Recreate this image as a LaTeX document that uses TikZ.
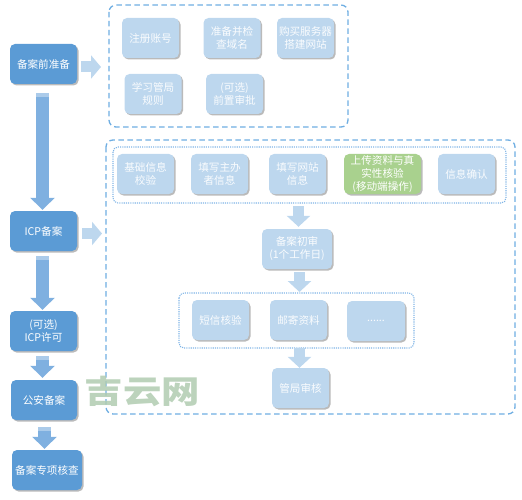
\documentclass[tikz,border=0pt]{standalone}
\usepackage{fontspec}
\setmainfont{Noto Sans CJK SC}
\usetikzlibrary{shadows,arrows.meta}
\definecolor{darkb}{HTML}{5B9BD5}
\definecolor{lightb}{HTML}{BDD7EE}
\definecolor{greenb}{HTML}{A9D18E}
\definecolor{arrowb}{HTML}{7FB0E0}
\definecolor{dashb}{HTML}{6FAEE2}
\definecolor{dotb}{HTML}{7FB4E6}
\definecolor{wm}{HTML}{B0CBB0}
\tikzset{
  x=1pt,y=-1pt,
  card/.style={rounded corners=5pt,text=white,align=center,inner sep=0pt,
    minimum height=40pt,font=\fontsize{10.6}{13}\selectfont,
    drop shadow={shadow xshift=1.5pt,shadow yshift=-1.5pt,fill=black!45,opacity=.6}},
  mainbox/.style={card,fill=darkb,minimum width=67pt},
  subbox/.style={card,fill=lightb,text=white!92!lightb,minimum width=57pt},
  greenbox/.style={card,fill=greenb,minimum width=77pt},
  dashframe/.style={draw=dashb,line width=1.3pt,dash pattern=on 5.5pt off 3.5pt,rounded corners=7pt},
  dotframe/.style={draw=dotb,line width=1.1pt,dash pattern=on 1.1pt off 1.1pt,rounded corners=5pt},
  flowarrow/.style={draw=arrowb,line width=13pt,-{Triangle[width=24pt,length=12pt,fill=arrowb]}},
  sidearrow/.style={draw=lightb,line width=11pt,-{Triangle[width=23pt,length=10pt,fill=lightb]}},
  innerarrow/.style={draw=lightb,line width=11pt,-{Triangle[width=23pt,length=11pt,fill=lightb]}},
  sheen/.style={fill=white,opacity=.35},
  anchorpt/.style={inner sep=0pt,minimum size=0pt}
}
\begin{document}
\begin{tikzpicture}
\useasboundingbox (0,0) rectangle (522,500);
% frames
\draw[dashframe] (109,5) rectangle (348,127);
\draw[dashframe] (106,140) rectangle (515,414);
\draw[dotframe] (113,147) rectangle (506,203);
\draw[dotframe] (179,293) rectangle (414,348);
% main column
\node[mainbox] (prep) at (43.5,64) {备案前准备};
\node[mainbox] (icp) at (43.5,231) {ICP备案};
\node[mainbox] (lic) at (43.5,331) {(可选)\\ICP许可};
\node[mainbox,minimum width=66pt] (pol) at (44,400) {公安备案};
\node[mainbox,minimum width=70pt] (chk) at (47,470) {备案专项核查};
% top group
\node[subbox] (reg) at (150.5,38) {注册账号};
\node[subbox] (dom) at (232,38) {准备并检\\查域名};
\node[subbox] (srv) at (305.5,38) {购买服务器\\搭建网站};
\node[subbox] (rule) at (153,94) {学习管局\\规则};
\node[subbox] (pre) at (234.5,94) {(可选)\\前置审批};
% big group
\node[subbox] (base) at (145.5,174) {基础信息\\校验};
\node[subbox] (host) at (219.5,174) {填写主办\\者信息};
\node[subbox] (site) at (297.5,174) {填写网站\\信息};
\node[greenbox] (upl) at (382.5,174) {上传资料与真\\实性核验\\(移动端操作)};
\node[subbox] (conf) at (466.5,174) {信息确认};
\node[subbox,minimum width=70pt] (init) at (297,249) {备案初审\\(1个工作日)};
\node[subbox] (sms) at (220.5,320) {短信核验};
\node[subbox] (mail) at (298.5,320) {邮寄资料};
\node[subbox,minimum width=58pt] (more) at (376,321) {......};
\node[subbox] (gov) at (300.5,388) {管局审核};
% helpers for the arrows standing off the node axes
\coordinate (f1) at (prep.south -| 42.5,0);
\coordinate (f2) at (icp.south -| 42.5,0);
\coordinate (f3) at (lic.south -| 42.5,0);
\coordinate (f4) at (pol.south -| 44.5,0);
% flow arrows
\draw[flowarrow,shorten <=9pt,shorten >=1pt] (f1) -- (f1 |- icp.north);
\draw[flowarrow,shorten <=5pt,shorten >=1pt] (f2) -- (f2 |- lic.north);
\draw[flowarrow,shorten <=5pt,shorten >=2pt] (f3) -- (f3 |- pol.north);
\draw[flowarrow,shorten <=7pt,shorten >=1pt] (f4) -- (f4 |- chk.north);
\fill[sheen] (36,93) rectangle (49,97);
\fill[sheen] (36,256) rectangle (49,260);
\fill[sheen] (36,356) rectangle (49,360);
\fill[sheen] (38,427) rectangle (51,431);
% side arrows
\coordinate (s1) at (109,67);
\coordinate (s2) at (106,233.5);
\draw[sidearrow,shorten <=4pt,shorten >=8pt] (prep.east |- s1) -- (s1);
\draw[sidearrow,shorten <=5pt,shorten >=4pt] (icp.east |- s2) -- (s2);
% inner arrows
\coordinate (d1) at (298.5,203);
\coordinate (d2) at (299.5,269);
\coordinate (d3) at (299.5,348);
\draw[innerarrow,shorten <=3pt,shorten >=2pt] (d1) -- (d1 |- init.north);
\draw[innerarrow,shorten <=3pt,shorten >=1pt] (d2) -- (d2 |- 0,293);
\draw[innerarrow,shorten >=0pt] (d3) -- (d3 |- gov.north);
% watermark
\node[anchorpt,text=wm,opacity=.85,xscale=1.2,font=\fontsize{32}{32}\selectfont\bfseries] (wmark) at (142.5,391.5) {吉云网};
\end{tikzpicture}
\end{document}
